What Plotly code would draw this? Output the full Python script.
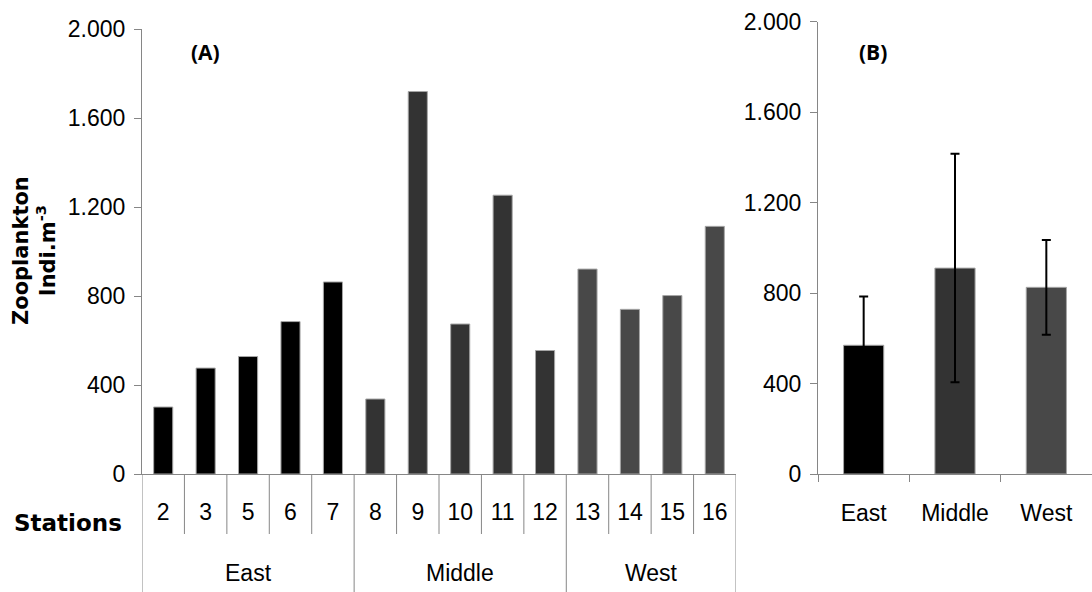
import plotly.graph_objects as go

# ---- data -------------------------------------------------------------
stations = ["2", "3", "5", "6", "7", "8", "9", "10", "11", "12", "13", "14", "15", "16"]
station_region = ["East"] * 5 + ["Middle"] * 5 + ["West"] * 4
abundance = [301, 476, 528, 685, 863, 337, 1719, 674, 1253, 555, 921, 740, 802, 1113]

regions = ["East", "Middle", "West"]
region_mean = [569, 910, 825]
region_sd = [216, 505, 209]

y_ticks = [0, 400, 800, 1200, 1600, 2000]

# ---- styling ----------------------------------------------------------
W, H = 1092, 592
region_color = {"East": "#000000", "Middle": "#333333", "West": "#484848"}
axis_grey = "#868686"
outline_grey = "#a6a6a6"
sans = "Liberation Sans, Arial, sans-serif"
bold_sans = "DejaVu Sans, sans-serif"


def px_x(p):
    return p / W


def px_y(p):
    return (H - p) / H


fig = go.Figure()

# (A) individual stations
fig.add_trace(go.Bar(
    x=stations, y=abundance,
    marker=dict(color=[region_color[r] for r in station_region],
                line=dict(color=outline_grey, width=1)),
    width=0.45, xaxis="x", yaxis="y", showlegend=False,
))

# (B) regional means with standard deviation
fig.add_trace(go.Bar(
    x=regions, y=region_mean,
    marker=dict(color=[region_color[r] for r in regions],
                line=dict(color=outline_grey, width=1)),
    error_y=dict(type="data", array=region_sd, visible=True,
                 color="#000000", thickness=2, width=4.5),
    width=0.44, xaxis="x2", yaxis="y2", showlegend=False,
))

yaxis_common = dict(
    range=[0, 2000], tickvals=y_ticks, tickformat=",d",
    showline=True, linecolor=axis_grey, linewidth=1,
    ticks="outside", ticklen=7, tickcolor=axis_grey,
    showgrid=False, zeroline=False, automargin=False,
    tickfont=dict(family=sans, size=23, color="#000000"),
    ticklabelstandoff=4,
)

# Divider lines of the two-level category axis under panel (A)
shapes = []
n = len(stations)
for i in range(n + 1):
    is_group_edge = (i == 0 or i == n or station_region[i] != station_region[i - 1])
    shapes.append(dict(
        type="line", xref="x", yref="paper",
        x0=i - 0.5, x1=i - 0.5,
        y0=0 if is_group_edge else px_y(534), y1=px_y(474),
        line=dict(color=axis_grey, width=1),
    ))

# Region names centred under their stations
annotations = []
for reg in regions:
    idx = [i for i, r in enumerate(station_region) if r == reg]
    annotations.append(dict(
        x=(idx[0] + idx[-1]) / 2, y=px_y(573), xref="x", yref="paper",
        text=reg, showarrow=False, xanchor="center", yanchor="middle",
        font=dict(family=sans, size=23, color="#000000"),
    ))

annotations += [
    dict(x=px_x(12), y=px_y(523), xref="paper", yref="paper",
         text="<b>Stations</b>", showarrow=False, xanchor="left", yanchor="middle",
         font=dict(family=bold_sans, size=23, color="#000000")),
    dict(x=px_x(34), y=px_y(251), xref="paper", yref="paper",
         text="<b>Zooplankton</b><br><b>Indi.m<sup>-3</sup></b>", textangle=-90,
         showarrow=False, xanchor="center", yanchor="middle",
         font=dict(family=bold_sans, size=21, color="#000000")),
    dict(x=px_x(205), y=px_y(52), xref="paper", yref="paper",
         text="<b>(A)</b>", showarrow=False, xanchor="center", yanchor="middle",
         font=dict(family="Open Sans, sans-serif", size=21, color="#000000")),
    dict(x=px_x(873), y=px_y(52), xref="paper", yref="paper",
         text="<b>(B)</b>", showarrow=False, xanchor="center", yanchor="middle",
         font=dict(family="Open Sans, sans-serif", size=21, color="#000000")),
]

fig.update_layout(
    width=W, height=H,
    margin=dict(l=0, r=0, t=0, b=0, autoexpand=False),
    paper_bgcolor="#ffffff", plot_bgcolor="#ffffff",
    separators=",.",
    xaxis=dict(
        domain=[px_x(142), px_x(736)], anchor="y",
        type="category", range=[-0.5, n - 0.5],
        showline=True, linecolor=axis_grey, linewidth=1,
        ticks="", showgrid=False, zeroline=False, automargin=False,
        tickfont=dict(family=sans, size=23, color="#000000"),
        ticklabelstandoff=17,
    ),
    yaxis=dict(domain=[px_y(474), px_y(29)], anchor="x", **yaxis_common),
    xaxis2=dict(
        domain=[px_x(818), 1.0], anchor="y2",
        type="category", range=[-0.5, len(regions) - 0.5],
        showline=True, linecolor=axis_grey, linewidth=1,
        ticks="outside", tickson="boundaries", ticklen=7, tickcolor=axis_grey,
        showgrid=False, zeroline=False, automargin=False,
        tickfont=dict(family=sans, size=23, color="#000000"),
        ticklabelstandoff=18,
    ),
    yaxis2=dict(domain=[px_y(474), px_y(21.5)], anchor="x2", **yaxis_common),
    shapes=shapes,
    annotations=annotations,
    bargap=0.55,
)

fig.write_html("out.html")
